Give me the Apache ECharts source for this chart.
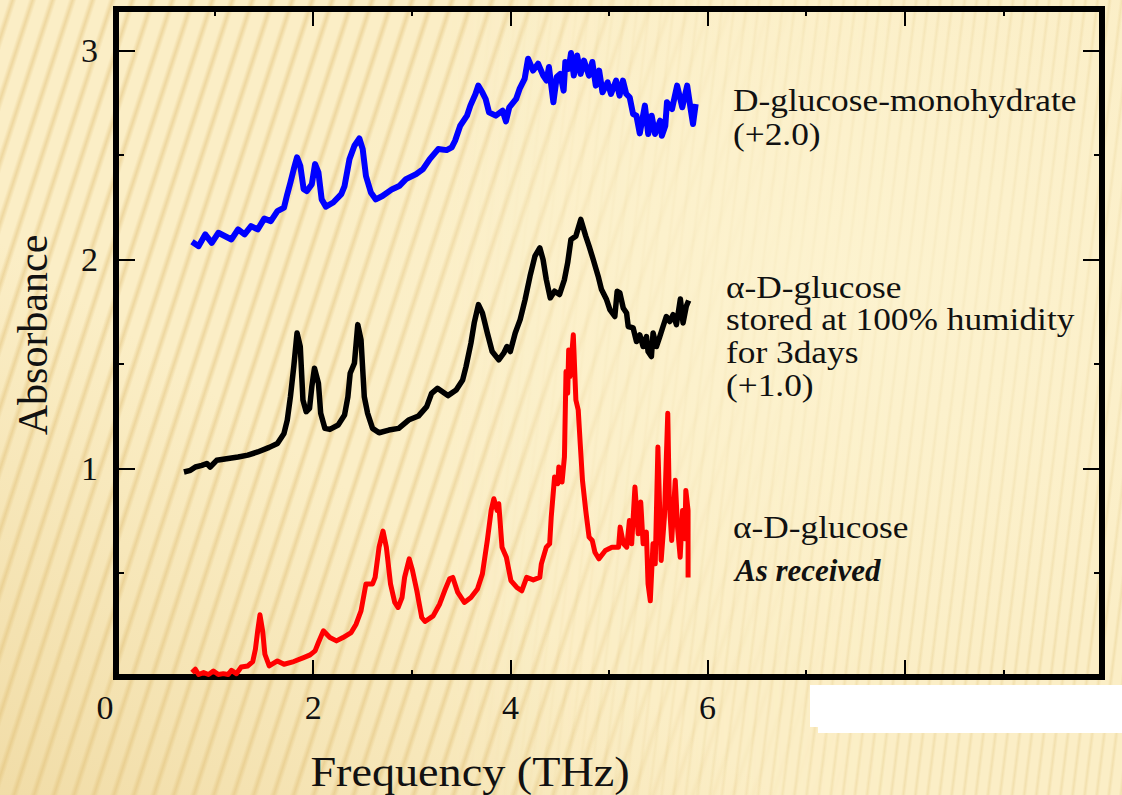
<!DOCTYPE html>
<html>
<head>
<meta charset="utf-8">
<script src="https://cdn.jsdelivr.net/npm/echarts@6/dist/echarts.min.js"></script>
<style>
  html, body { margin: 0; padding: 0; }
  body { width: 1122px; height: 795px; overflow: hidden; position: relative; background: #fbeec6; }
  .bg { position: absolute; left: 0; top: 0; width: 1122px; height: 795px; }
  #bg1 {
    background: repeating-linear-gradient(108deg, #fbeec6 0px, #fbeec6 8px, #eed79f 12px, #fbeec6 16px, #fbeec6 19px);
    -webkit-mask-image: linear-gradient(to right, #000 0%, #000 45%, rgba(0,0,0,0) 85%);
    mask-image: linear-gradient(to right, #000 0%, #000 45%, rgba(0,0,0,0) 85%);
  }
  #bg2 {
    background: repeating-linear-gradient(97deg, #fbeec6 0px, #fbeec6 7px, #f2e0ae 9.5px, #fbeec6 12px);
    -webkit-mask-image: linear-gradient(to right, rgba(0,0,0,0) 40%, #000 80%);
    mask-image: linear-gradient(to right, rgba(0,0,0,0) 40%, #000 80%);
  }
  #bg3 {
    background:
      radial-gradient(ellipse 55% 60% at 75% 35%, rgba(253,244,210,0.75) 0%, rgba(253,244,210,0.35) 50%, rgba(253,244,210,0) 85%),
      linear-gradient(to top right, rgba(222,188,110,0.35) 0%, rgba(222,188,110,0) 35%);
  }
  #chart { position: absolute; left: 0; top: 0; width: 1122px; height: 795px; }
</style>
</head>
<body>
<div class="bg" id="bg1"></div>
<div class="bg" id="bg2"></div>
<div class="bg" id="bg3"></div>
<div id="chart"></div>
<script>
// ---------- data ----------
const xTickLabels = ['0', '2', '4', '6', '8', '10'];
const yTickLabels = ['1', '2', '3'];

const blueName = 'D-glucose-monohydrate (+2.0)';
const blueFreq = [0.771,0.838,0.905,0.971,1.038,1.171,1.238,1.304,1.370,1.437,1.504,1.570,1.637,1.704,1.737,1.769,1.803,1.836,1.869,1.903,1.936,1.986,2.019,2.053,2.086,2.129,2.203,2.285,2.318,2.368,2.418,2.468,2.502,2.535,2.585,2.635,2.702,2.801,2.872,2.941,3.044,3.113,3.182,3.268,3.353,3.405,3.439,3.491,3.560,3.594,3.646,3.674,3.715,3.749,3.783,3.852,3.921,3.955,3.989,4.058,4.093,4.144,4.179,4.230,4.281,4.333,4.367,4.391,4.436,4.470,4.505,4.540,4.557,4.591,4.615,4.643,4.677,4.712,4.746,4.797,4.831,4.866,4.900,4.934,4.986,5.020,5.072,5.107,5.141,5.175,5.210,5.244,5.278,5.312,5.364,5.398,5.433,5.467,5.519,5.536,5.571,5.588,5.639,5.691,5.743,5.793,5.828,5.852,5.879];
const blueAbs = [2.085,2.064,2.120,2.080,2.128,2.096,2.144,2.120,2.160,2.144,2.196,2.184,2.232,2.249,2.313,2.369,2.433,2.489,2.449,2.337,2.328,2.361,2.457,2.417,2.288,2.253,2.273,2.313,2.352,2.481,2.545,2.580,2.529,2.400,2.321,2.288,2.304,2.337,2.352,2.385,2.409,2.433,2.481,2.529,2.524,2.537,2.569,2.641,2.689,2.737,2.793,2.833,2.801,2.769,2.705,2.689,2.713,2.662,2.729,2.769,2.817,2.865,2.962,2.905,2.938,2.881,2.857,2.922,2.753,2.874,2.889,2.809,2.946,2.913,2.989,2.881,2.977,2.889,2.953,2.881,2.946,2.833,2.905,2.801,2.849,2.793,2.857,2.785,2.857,2.793,2.777,2.697,2.689,2.604,2.737,2.601,2.689,2.601,2.665,2.593,2.641,2.753,2.721,2.833,2.729,2.833,2.721,2.649,2.745];

const blackName = 'α-D-glucose stored at 100% humidity for 3days (+1.0)';
const blackFreq = [0.689,0.755,0.805,0.871,0.921,0.955,1.021,1.138,1.238,1.337,1.437,1.554,1.637,1.704,1.737,1.769,1.803,1.836,1.869,1.896,1.929,1.963,1.986,2.013,2.053,2.076,2.119,2.169,2.253,2.318,2.352,2.375,2.418,2.452,2.485,2.518,2.552,2.602,2.668,2.767,2.867,2.967,3.067,3.151,3.201,3.260,3.366,3.450,3.516,3.550,3.600,3.633,3.676,3.716,3.766,3.815,3.882,3.932,3.965,3.999,4.049,4.099,4.149,4.199,4.249,4.298,4.331,4.364,4.404,4.448,4.498,4.548,4.581,4.614,4.664,4.714,4.764,4.798,4.840,4.890,4.924,4.975,5.009,5.059,5.083,5.110,5.144,5.178,5.195,5.245,5.279,5.312,5.346,5.380,5.396,5.430,5.447,5.481,5.515,5.548,5.582,5.616,5.650,5.684,5.724,5.751,5.784,5.808];
const blackAbs = [0.982,0.990,1.006,1.014,1.023,1.006,1.038,1.047,1.054,1.063,1.078,1.100,1.119,1.167,1.231,1.343,1.487,1.648,1.583,1.327,1.271,1.287,1.391,1.479,1.407,1.263,1.191,1.186,1.207,1.255,1.343,1.455,1.503,1.688,1.615,1.343,1.263,1.191,1.170,1.183,1.191,1.231,1.250,1.295,1.359,1.383,1.348,1.375,1.423,1.487,1.600,1.696,1.784,1.744,1.648,1.559,1.519,1.551,1.583,1.559,1.648,1.712,1.808,1.920,2.016,2.056,2.000,1.904,1.816,1.848,1.832,1.904,1.984,2.096,2.112,2.192,2.112,2.064,2.000,1.920,1.856,1.808,1.760,1.727,1.848,1.840,1.768,1.744,1.679,1.672,1.607,1.639,1.583,1.631,1.559,1.535,1.648,1.583,1.631,1.679,1.727,1.703,1.736,1.688,1.811,1.696,1.776,1.804];

const redName = 'α-D-glucose As received';
const redFreq = [0.771,0.805,0.838,0.888,0.938,0.988,1.038,1.088,1.138,1.171,1.221,1.270,1.337,1.387,1.414,1.437,1.460,1.487,1.510,1.554,1.637,1.704,1.803,1.903,1.969,2.019,2.053,2.103,2.169,2.236,2.302,2.385,2.435,2.485,2.535,2.602,2.628,2.668,2.708,2.742,2.784,2.827,2.861,2.901,2.927,2.974,3.007,3.051,3.101,3.134,3.217,3.283,3.333,3.383,3.416,3.466,3.533,3.600,3.666,3.716,3.766,3.805,3.832,3.865,3.882,3.915,3.959,4.005,4.065,4.115,4.165,4.232,4.298,4.314,4.364,4.398,4.414,4.448,4.481,4.491,4.524,4.548,4.564,4.581,4.591,4.604,4.638,4.664,4.688,4.708,4.731,4.764,4.798,4.830,4.857,4.897,4.963,5.030,5.097,5.113,5.147,5.180,5.207,5.230,5.263,5.296,5.322,5.346,5.379,5.396,5.419,5.446,5.469,5.496,5.529,5.562,5.596,5.612,5.636,5.672,5.696,5.722,5.746,5.769,5.779,5.802,5.802];
const redAbs = [0.021,0.037,0.012,0.021,0.012,0.029,0.012,0.016,0.012,0.032,0.016,0.048,0.053,0.074,0.133,0.221,0.298,0.221,0.109,0.053,0.077,0.061,0.074,0.093,0.106,0.125,0.165,0.221,0.189,0.173,0.189,0.213,0.253,0.317,0.446,0.446,0.477,0.622,0.699,0.622,0.446,0.357,0.333,0.381,0.477,0.566,0.510,0.413,0.285,0.266,0.293,0.350,0.413,0.470,0.477,0.405,0.357,0.381,0.422,0.494,0.654,0.798,0.854,0.798,0.830,0.622,0.574,0.462,0.429,0.413,0.477,0.465,0.477,0.542,0.622,0.638,0.766,0.958,0.926,1.006,0.934,1.054,1.463,1.359,1.567,1.439,1.639,1.327,1.279,1.119,0.942,0.798,0.670,0.654,0.598,0.566,0.606,0.622,0.622,0.718,0.638,0.622,0.750,0.638,0.910,0.686,0.838,0.638,0.694,0.446,0.365,0.638,0.542,1.102,0.558,0.766,1.263,0.830,0.654,0.942,0.710,0.574,0.798,0.662,0.894,0.798,0.477];

// ---------- chart ----------
const pairs = (xs, ys) => xs.map((x, i) => [x, ys[i]]);
const FONT = '"Liberation Serif", "Times New Roman", serif';
const chart = echarts.init(document.getElementById('chart'), null, { renderer: 'svg' });

const tickStyle = { color: '#000', width: 2 };
// axis carrying only tick labels (no ticks)
const xLabelAxis = {
  type: 'value', position: 'bottom', min: 0, max: 10, interval: 2,
  axisLine: { show: false, onZero: false }, axisTick: { show: false }, splitLine: { show: false },
  axisLabel: {
    show: true, margin: 13, color: '#111', fontFamily: FONT, fontSize: 34,
    formatter: v => { const t = xTickLabels[Math.round(v / 2)]; return v === 0 ? '{z|' + t + '}' : t; },
    rich: { z: { fontFamily: FONT, fontSize: 34, color: '#111', padding: [0, 22, 0, 0] } }
  }
};
const yLabelAxis = {
  type: 'value', position: 'left', min: 0, max: 3.2, interval: 1,
  axisLine: { show: false, onZero: false }, axisTick: { show: false }, splitLine: { show: false },
  axisLabel: {
    show: true, margin: 18, color: '#111', fontFamily: FONT, fontSize: 34,
    formatter: v => (Math.abs(v - Math.round(v)) < 1e-6 && v >= 1 && v <= 3) ? yTickLabels[Math.round(v) - 1] : ''
  }
};
// axes carrying only inward ticks (no labels)
const tickAxis = (pos, max, interval, len) => ({
  type: 'value', position: pos, min: 0, max: max, interval: interval,
  axisLine: { show: false, onZero: false },
  axisTick: { show: true, inside: true, length: len, lineStyle: tickStyle },
  splitLine: { show: false }, axisLabel: { show: false }
});

const textEl = (txt, x, y, size, extra) => Object.assign({
  type: 'text', x: x, y: y, z: 50,
  style: { text: txt, font: size + 'px ' + FONT, fill: '#111', align: 'left', verticalAlign: 'middle', textAlign: 'left', textVerticalAlign: 'middle' }
}, extra || {});

chart.setOption({
  animation: false,
  backgroundColor: 'transparent',
  grid: { left: 116, right: 6, top: 9, bottom: 118, show: true, borderColor: '#000', borderWidth: 6, backgroundColor: 'transparent' },
  xAxis: [ xLabelAxis, tickAxis('bottom', 10, 2, 17), tickAxis('bottom', 10, 1, 7), tickAxis('top', 10, 2, 17), tickAxis('top', 10, 1, 7) ],
  yAxis: [ yLabelAxis, tickAxis('left', 3.2, 1, 19), tickAxis('left', 3.2, 0.5, 8), tickAxis('right', 3.2, 1, 19), tickAxis('right', 3.2, 0.5, 8) ],
  series: [
    { name: blueName, type: 'line', data: pairs(blueFreq, blueAbs), showSymbol: false, lineStyle: { color: '#0000ff', width: 6, join: 'round' }, itemStyle: { color: '#0000ff' } },
    { name: blackName, type: 'line', data: pairs(blackFreq, blackAbs), showSymbol: false, lineStyle: { color: '#000000', width: 5.5, join: 'round' }, itemStyle: { color: '#000' } },
    { name: redName, type: 'line', data: pairs(redFreq, redAbs), showSymbol: false, lineStyle: { color: '#ff0000', width: 5, join: 'round' }, itemStyle: { color: '#f00' } }
  ],
  graphic: [
    { type: 'rect', z: 40, shape: { x: 810, y: 685, width: 312, height: 42 }, style: { fill: '#ffffff' } },
    { type: 'rect', z: 40, shape: { x: 818, y: 685, width: 304, height: 48 }, style: { fill: '#ffffff' } },
    textEl('D-glucose-monohydrate', 733, 100.5, 31, { scaleX: 1.14 }),
    textEl('(+2.0)', 733, 134, 31, { scaleX: 1.14 }),
    textEl('α-D-glucose', 726, 287, 31, { scaleX: 1.14 }),
    textEl('stored at 100% humidity', 726, 319.5, 31, { scaleX: 1.14 }),
    textEl('for 3days', 726, 352, 31, { scaleX: 1.14 }),
    textEl('(+1.0)', 726, 385, 31, { scaleX: 1.14 }),
    textEl('α-D-glucose', 733, 527, 31, { scaleX: 1.14 }),
    { type: 'text', x: 735, y: 570, z: 50,
      style: { text: 'As received', font: 'italic bold 31px ' + FONT, fill: '#111', align: 'left', verticalAlign: 'middle', textAlign: 'left', textVerticalAlign: 'middle' } },
    { type: 'text', x: 470, y: 772, z: 50, scaleX: 1.1,
      style: { text: 'Frequency (THz)', font: '42px ' + FONT, fill: '#111', align: 'center', verticalAlign: 'middle', textAlign: 'center', textVerticalAlign: 'middle' } },
    { type: 'text', x: 33, y: 335, z: 50, rotation: Math.PI / 2,
      style: { text: 'Absorbance', font: '42px ' + FONT, fill: '#111', align: 'center', verticalAlign: 'middle', textAlign: 'center', textVerticalAlign: 'middle' } }
  ]
});
</script>
</body>
</html>
